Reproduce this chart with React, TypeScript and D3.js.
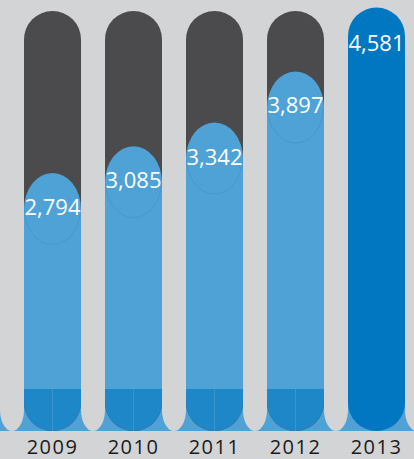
import React from 'react';
import * as d3 from 'd3';

const years = ['2009', '2010', '2011', '2012', '2013'];
const values = [2794, 3085, 3342, 3897, 4581];
const highlightYear = '2013';

const W = 414;
const H = 459;
const BAR_W = 57;
const R = BAR_W / 2;
const BOTTOM = 431;
const DARK_TOP = 389;
const GAP_CURVE = 410;
const BUBBLE_RY = 36;

export default function App() {
  const x = d3.scalePoint<string>().domain(years).range([52.5, 376.5]);
  const y = d3.scaleLinear().domain([0, 5000]).range([466, 6]);
  const fmt = d3.format(',');

  const capsule = (cx: number, top: number) => {
    const l = cx - R, r = cx + R;
    return `M${l},${top + R} A${R},${R} 0 0 1 ${r},${top + R} L${r},${BOTTOM - R} A${R},${R} 0 0 1 ${l},${BOTTOM - R} Z`;
  };

  const centers = years.map((yr) => x(yr) as number);
  const step = x.step();
  const gapCenters = [centers[0] - step / 2, ...centers.map((c) => c + step / 2)];
  const gapHalf = (step - BAR_W) / 2;

  return (
    <svg
      width={W}
      height={H}
      style={{ position: 'fixed', left: 0, top: 0, display: 'block' }}
    >
      <rect x={0} y={0} width={W} height={H} fill="#d3d4d6" />
      <rect x={0} y={395} width={W} height={BOTTOM - 395} fill="#4fa2d6" />
      {gapCenters.map((gc, i) => {
        const gl = gc - gapHalf, gr = gc + gapHalf;
        return (
          <path
            key={'g' + i}
            d={`M${gl},0 L${gl},${GAP_CURVE} A${gapHalf},${BOTTOM - GAP_CURVE} 0 0 0 ${gr},${GAP_CURVE} L${gr},0 Z`}
            fill="#d3d4d6"
          />
        );
      })}
      <defs>
        {years.map((yr, i) => (
          <clipPath id={'clip' + i} key={'c' + i}>
            <path d={capsule(centers[i], yr === highlightYear ? 7.5 : 11)} />
          </clipPath>
        ))}
      </defs>
      {years.map((yr, i) => {
        const cx = centers[i];
        const v = values[i];
        const vy = y(v);
        const l = cx - R;
        if (yr === highlightYear) {
          return (
            <g key={yr}>
              <path d={capsule(cx, 7.5)} fill="#0077c0" />
              <text
                x={cx}
                y={vy - 3}
                textAnchor="middle"
                dominantBaseline="central"
                fill="#ffffff"
                fontFamily="'Open Sans', sans-serif"
                fontSize={22}
              >
                {fmt(v)}
              </text>
            </g>
          );
        }
        return (
          <g key={yr}>
            <g clipPath={`url(#clip${i})`}>
              <rect x={l} y={0} width={BAR_W} height={H} fill="#4b4b4d" />
              <rect x={l} y={vy} width={BAR_W} height={DARK_TOP - vy} fill="#4fa2d6" />
              <ellipse cx={cx} cy={vy} rx={R} ry={BUBBLE_RY} fill="#4fa2d6" />
              <path
                d={`M${l + 0.5},${vy} A${R - 0.5},${BUBBLE_RY - 0.5} 0 0 0 ${cx + R - 0.5},${vy}`}
                fill="none"
                stroke="#4495cb"
                strokeWidth={0.8}
              />
              <rect x={l} y={DARK_TOP} width={BAR_W} height={BOTTOM - DARK_TOP} fill="#1e87c7" />
              <line x1={cx} x2={cx} y1={DARK_TOP} y2={BOTTOM} stroke="#3a95cd" strokeWidth={1} />
            </g>
            <text
              x={cx}
              y={vy - 3}
              textAnchor="middle"
              dominantBaseline="central"
              fill="#ffffff"
              fontFamily="'Open Sans', sans-serif"
              fontSize={22}
            >
              {fmt(v)}
            </text>
          </g>
        );
      })}
      {years.map((yr, i) => (
        <text
          key={'y' + yr}
          x={centers[i]}
          y={454}
          textAnchor="middle"
          fill="#1a1a1a"
          fontFamily="'Open Sans', sans-serif"
          fontSize={20}
          letterSpacing={1.5}
        >
          {yr}
        </text>
      ))}
    </svg>
  );
}
